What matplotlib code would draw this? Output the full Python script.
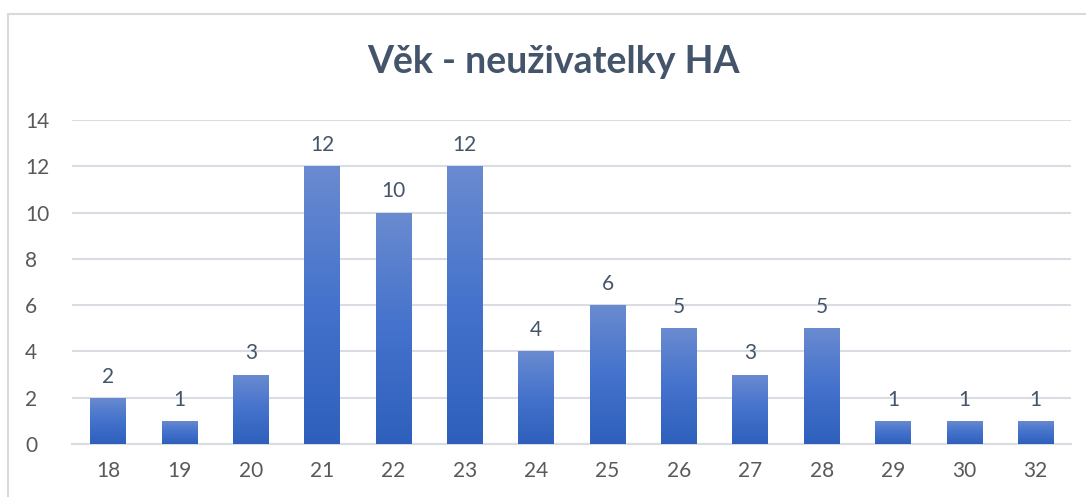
import numpy as np
import matplotlib.pyplot as plt
from matplotlib.patches import Rectangle
from matplotlib.colors import LinearSegmentedColormap

# ages and counts
ages = ['18', '19', '20', '21', '22', '23', '24', '25', '26', '27', '28', '29', '30', '32']
counts = [2, 1, 3, 12, 10, 12, 4, 6, 5, 3, 5, 1, 1, 1]
y_ticks = [0, 2, 4, 6, 8, 10, 12, 14]

plt.rcParams['font.family'] = ['Lato', 'DejaVu Sans']
text_col = '#595959'
label_col = '#44546a'
grid_col = '#d9dde3'

fig = plt.figure(figsize=(10.86, 4.97), dpi=100)
# outer chart border
fig.patches.append(Rectangle((8 / 1086, -0.1), 1.2, (497 - 14) / 497 + 0.1,
                             transform=fig.transFigure, fill=False,
                             edgecolor='#d9d9d9', linewidth=1.5))

ax = fig.add_axes([0.0666, 53 / 497, 0.920, 324 / 497])
x = np.arange(len(ages))
bars = ax.bar(x, counts, width=0.5, color='none', zorder=3)

cmap = LinearSegmentedColormap.from_list('bar', ['#2e60bb', '#4472cc', '#6a8bd0'])
grad = np.linspace(0, 1, 256).reshape(-1, 1)
for b in bars:
    x0, y0 = b.get_x(), b.get_y()
    w, h = b.get_width(), b.get_height()
    im = ax.imshow(grad, cmap=cmap, origin='lower', aspect='auto',
                   extent=[x0, x0 + w, y0, y0 + h], zorder=3)
    im.set_clip_path(b)

for xi, c in zip(x, counts):
    ax.annotate(str(c), (xi, c), xytext=(0, 8), textcoords='offset points',
                ha='center', va='bottom', fontsize=15, color=label_col)

ax.set_xlim(-0.5, len(ages) - 0.5)
ax.set_ylim(0, 14)
ax.set_yticks(y_ticks)
ax.set_xticks(x)
ax.set_xticklabels(ages)
ax.tick_params(axis='both', length=0, labelsize=15, colors=text_col)
ax.tick_params(axis='x', pad=12)
ax.tick_params(axis='y', pad=34)
for lab in ax.get_yticklabels():
    lab.set_horizontalalignment('left')
ax.grid(axis='y', color=grid_col, linewidth=1.5, zorder=0)
for s in ['top', 'right', 'left']:
    ax.spines[s].set_visible(False)
ax.spines['bottom'].set_color(grid_col)
ax.spines['bottom'].set_linewidth(1.5)

fig.text(553 / 1086, 1 - 62 / 497, 'Věk - neuživatelky HA', ha='center', va='center',
         fontsize=27, fontweight='bold', color=label_col)

fig.savefig('out.png', dpi=100)
